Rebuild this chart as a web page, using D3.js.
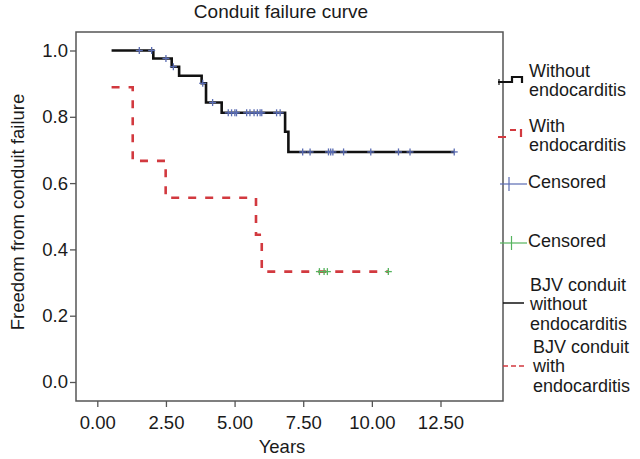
<!DOCTYPE html>
<html>
<head>
<meta charset="utf-8">
<script src="https://cdn.jsdelivr.net/npm/d3@7"></script>
<style>
  html, body { margin: 0; padding: 0; background: #fff; }
  svg text { font-family: "Liberation Sans", Arial, Helvetica, sans-serif; fill: #1a1a1a; }
</style>
</head>
<body>
<svg id="chart" width="640" height="459"></svg>
<script>
// ---- data ----
const xTicks = [0, 2.5, 5, 7.5, 10, 12.5];
const yTicks = [0, 0.2, 0.4, 0.6, 0.8, 1.0];

const noEndoTimes = [0.52, 2.04, 2.71, 2.98, 3.80, 3.96, 4.53, 6.84, 6.96, 13.0];
const noEndoSurv  = [1.0, 0.976, 0.951, 0.924, 0.901, 0.843, 0.812, 0.755, 0.694, 0.694];
const noEndoCensored = [1.53, 1.98, 2.5, 2.77, 3.84, 4.2, 4.77, 4.89, 5.01, 5.07, 5.44, 5.56, 5.71, 5.83, 5.93, 5.99, 6.53, 6.66, 7.48, 7.75, 8.42, 8.5, 8.58, 8.97, 9.96, 10.97, 11.39, 13.0];

const endoTimes = [0.52, 1.29, 2.49, 5.78, 5.99, 10.6];
const endoSurv  = [0.889, 0.667, 0.556, 0.444, 0.333, 0.333];
const endoCensored = [8.09, 8.26, 8.38, 10.6];

const legendLabels = [
  ["Without", "endocarditis"],
  ["With", "endocarditis"],
  ["Censored"],
  ["Censored"],
  ["BJV conduit", "without", "endocarditis"],
  ["BJV conduit", "with", "endocarditis"]
];

// ---- layout ----
const svg = d3.select("#chart");
const frame = {left: 76, top: 32, right: 503, bottom: 401};
const x = d3.scaleLinear().domain([0, 12.5]).range([97.3, 440.5]);
const y = d3.scaleLinear().domain([0, 1]).range([382, 50.5]);

const FS = 18.5;
const BLACK = "#111";
const RED = "#d2393f";
const BLUE = "#5a6cb3";
const GREEN = "#55b45e";

// title
svg.append("text").attr("x", 281).attr("y", 18).attr("text-anchor", "middle")
  .style("font-size", "19px").text("Conduit failure curve");

// frame
svg.append("rect").attr("x", frame.left).attr("y", frame.top)
  .attr("width", frame.right - frame.left).attr("height", frame.bottom - frame.top)
  .attr("fill", "none").attr("stroke", "#555").attr("stroke-width", 1.5);

// axes
const xAxis = d3.axisBottom(x).tickValues(xTicks).tickFormat(d3.format(".2f")).tickSize(6).tickPadding(4);
const gx = svg.append("g").attr("transform", `translate(0,${frame.bottom})`).call(xAxis);
gx.select(".domain").remove();
gx.selectAll("line").attr("stroke", "#555").attr("stroke-width", 1.3);
gx.selectAll("text").style("font-size", FS + "px").attr("fill", "#1a1a1a").attr("dy", "0.95em");

const yAxis = d3.axisLeft(y).tickValues(yTicks).tickFormat(d3.format(".1f")).tickSize(6).tickPadding(2);
const gy = svg.append("g").attr("transform", `translate(${frame.left},0)`).call(yAxis);
gy.select(".domain").remove();
gy.selectAll("line").attr("stroke", "#555").attr("stroke-width", 1.3);
gy.selectAll("text").style("font-size", FS + "px").attr("fill", "#1a1a1a");

// axis titles
svg.append("text").attr("x", 282).attr("y", 453).attr("text-anchor", "middle")
  .style("font-size", FS + "px").text("Years");
svg.append("text").attr("transform", "translate(24,212) rotate(-90)").attr("text-anchor", "middle")
  .style("font-size", FS + "px").text("Freedom from conduit failure");

// curves
const stepLine = d3.line().x(d => x(d[0])).y(d => y(d[1])).curve(d3.curveStepAfter);
const noEndo = noEndoTimes.map((t, i) => [t, noEndoSurv[i]]);
const endo = endoTimes.map((t, i) => [t, endoSurv[i]]);

svg.append("path").attr("d", stepLine(endo)).attr("fill", "none")
  .attr("stroke", RED).attr("stroke-width", 2.6).attr("stroke-dasharray", "8,9");
svg.append("path").attr("d", stepLine(noEndo)).attr("fill", "none")
  .attr("stroke", BLACK).attr("stroke-width", 2.6);

function survAt(times, surv, t) {
  let v = surv[0];
  for (let i = 0; i < times.length; i++) if (times[i] <= t) v = surv[i];
  return v;
}
function drawCross(g, cx, cy, color, s) {
  g.append("line").attr("x1", cx - s).attr("x2", cx + s).attr("y1", cy).attr("y2", cy)
    .attr("stroke", color).attr("stroke-width", 1.3);
  g.append("line").attr("x1", cx).attr("x2", cx).attr("y1", cy - s).attr("y2", cy + s)
    .attr("stroke", color).attr("stroke-width", 1.3);
}
const cg = svg.append("g");
noEndoCensored.forEach(t => drawCross(cg, x(t), y(survAt(noEndoTimes, noEndoSurv, t)), BLUE, 3.5));
endoCensored.forEach(t => drawCross(cg, x(t), y(survAt(endoTimes, endoSurv, t)), GREEN, 3.5));

// legend
const lg = svg.append("g");
const textX = [529, 529, 528, 528, 530, 533];
const baselines = [[76.5, 95.5], [131.5, 150.5], [188], [246.5], [290.5, 310, 329.5], [352.5, 372, 391.5]];
legendLabels.forEach((lines, i) => {
  lines.forEach((s, j) => {
    lg.append("text").attr("x", textX[i]).attr("y", baselines[i][j])
      .style("font-size", "18px").text(s);
  });
});
// legend symbols
lg.append("path").attr("d", "M498,82 H512 V77 H522 V83").attr("fill", "none")
  .attr("stroke", BLACK).attr("stroke-width", 2.2);
lg.append("line").attr("x1", 499).attr("x2", 499).attr("y1", 79).attr("y2", 85).attr("stroke", BLACK).attr("stroke-width", 1.2);
lg.append("path").attr("d", "M498,137 H506 M510,130 H516 M521,129 V137").attr("fill", "none")
  .attr("stroke", RED).attr("stroke-width", 2.2);
lg.append("line").attr("x1", 500).attr("x2", 527).attr("y1", 184).attr("y2", 184).attr("stroke", BLUE).attr("stroke-width", 1.2);
lg.append("line").attr("x1", 509).attr("x2", 509).attr("y1", 177).attr("y2", 191).attr("stroke", BLUE).attr("stroke-width", 1.2);
lg.append("line").attr("x1", 500).attr("x2", 527).attr("y1", 243).attr("y2", 243).attr("stroke", GREEN).attr("stroke-width", 1.2);
lg.append("line").attr("x1", 511.5).attr("x2", 511.5).attr("y1", 236).attr("y2", 250).attr("stroke", GREEN).attr("stroke-width", 1.2);
lg.append("line").attr("x1", 503).attr("x2", 524).attr("y1", 303).attr("y2", 303).attr("stroke", BLACK).attr("stroke-width", 1.5);
lg.append("line").attr("x1", 503).attr("x2", 526).attr("y1", 366).attr("y2", 366).attr("stroke", RED).attr("stroke-width", 1.5).attr("stroke-dasharray", "5,3");
</script>
</body>
</html>
